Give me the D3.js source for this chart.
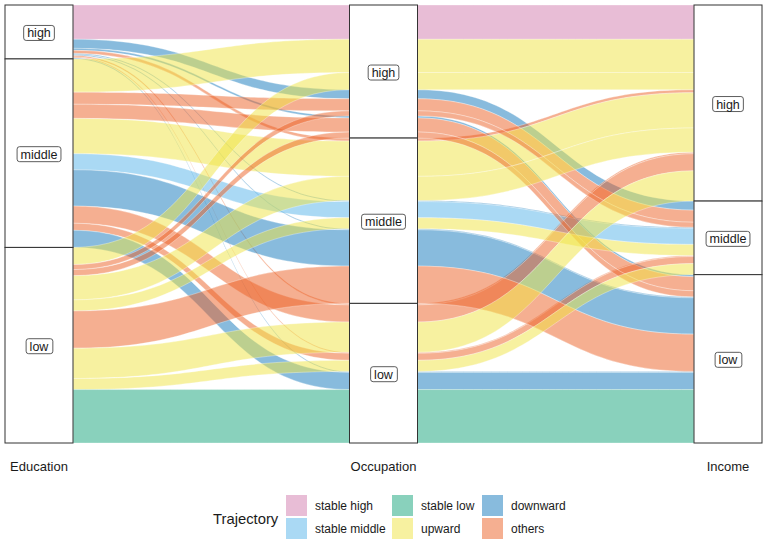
<!DOCTYPE html>
<html><head><meta charset="utf-8">
<script src="https://cdn.jsdelivr.net/npm/d3@7"></script>
<style>body{margin:0;background:#fff;}svg{display:block;font-family:"Liberation Sans",Arial,Helvetica,sans-serif;}</style>
</head><body><svg id="c" width="765" height="543"></svg>
<script>
// ---- data ----
const axesNames = ["Education", "Occupation", "Income"];
const levels = ["high", "middle", "low"];
const trajectories = ["stable high", "stable middle", "stable low", "upward", "downward", "others"];
const trajColors = ["#D27CAE", "#56B4E9", "#14A47A", "#F0E442", "#1277BB", "#EB5F23"];

const education  = ["high","high","high","high","high","high","high","high","high",
                    "middle","middle","middle","middle","middle","middle","middle","middle","middle",
                    "low","low","low","low","low","low","low","low","low"];
const occupation = ["high","high","high","middle","middle","middle","low","low","low",
                    "high","high","high","middle","middle","middle","low","low","low",
                    "high","high","high","middle","middle","middle","low","low","low"];
const income     = ["high","middle","low","high","middle","low","high","middle","low",
                    "high","middle","low","high","middle","low","high","middle","low",
                    "high","middle","low","high","middle","low","high","middle","low"];
const counts     = [34, 9, 2, 3, 1, 1, 1.5, 1, 1,
                    33, 12, 14, 35, 16, 36, 17, 7, 17,
                    17, 5, 6, 24, 11, 37, 30, 11, 53];
const trajectory = ["stable high","downward","downward","others","downward","downward","others","others","downward",
                    "upward","others","others","upward","stable middle","downward","others","others","downward",
                    "upward","others","others","upward","upward","others","upward","upward","stable low"];

// ---- layout ----
const svg = d3.select("#c");
const alluvia = counts.map((n, i) => ({
  id: i, n, traj: trajectory[i], strata: [education[i], occupation[i], income[i]]
}));
const total = d3.sum(counts);
const y = d3.scaleLinear().domain([0, total]).range([5, 443]);
const x = d3.scalePoint().domain(axesNames).range([39, 728]);
const boxW = 68;
const lvl = d3.scaleOrdinal().domain(levels).range([0, 1, 2]);
const color = d3.scaleOrdinal().domain(trajectories).range(trajColors);
// lode guidance: which other axes decide the order inside a stratum
const guide = [[1, 2], [2, 0], [1, 0]];

const pos = alluvia.map(() => []);
const strataBoxes = [];
axesNames.forEach((ax, a) => {
  let cum = 0;
  levels.forEach(lv => {
    const members = alluvia.filter(d => d.strata[a] === lv);
    members.sort((p, q) => {
      for (const g of guide[a]) {
        const diff = lvl(p.strata[g]) - lvl(q.strata[g]);
        if (diff) return diff;
      }
      return p.id - q.id;
    });
    const start = cum;
    members.forEach(d => { pos[d.id][a] = [cum, cum + d.n]; cum += d.n; });
    strataBoxes.push({ axis: a, level: lv, y0: start, y1: cum });
  });
});

function ribbon(x0, a0, x1, a1) {
  const xm = (x0 + x1) / 2;
  const p = d3.path();
  p.moveTo(x0, y(a0[0]));
  p.bezierCurveTo(xm, y(a0[0]), xm, y(a1[0]), x1, y(a1[0]));
  p.lineTo(x1, y(a1[1]));
  p.bezierCurveTo(xm, y(a1[1]), xm, y(a0[1]), x0, y(a0[1]));
  p.closePath();
  return p.toString();
}

const gFlows = svg.append("g");
alluvia.forEach(d => {
  for (let a = 0; a < 2; a++) {
    const x0 = x(axesNames[a]) + boxW / 2, x1 = x(axesNames[a + 1]) - boxW / 2;
    gFlows.append("path")
      .attr("d", ribbon(x0, pos[d.id][a], x1, pos[d.id][a + 1]))
      .attr("fill", color(d.traj)).attr("fill-opacity", 0.5)
      .attr("stroke", "#fff").attr("stroke-width", 0.4).attr("stroke-opacity", 0.8);
  }
});

// strata boxes
const gBox = svg.append("g");
strataBoxes.forEach(s => {
  const cx = x(axesNames[s.axis]);
  gBox.append("rect")
    .attr("x", cx - boxW / 2).attr("y", y(s.y0))
    .attr("width", boxW).attr("height", y(s.y1) - y(s.y0))
    .attr("fill", "#fff").attr("stroke", "#333").attr("stroke-width", 1);
});
strataBoxes.forEach(s => {
  const cx = x(axesNames[s.axis]);
  const cy = (y(s.y0) + y(s.y1)) / 2 + 1;
  const t = gBox.append("text").attr("x", cx).attr("y", cy + 4.5)
    .attr("text-anchor", "middle").attr("font-size", 12.5).attr("fill", "#1a1a1a").text(s.level);
  const bb = t.node().getBBox();
  gBox.insert("rect", () => t.node())
    .attr("x", bb.x - 3.5).attr("y", cy - 7.5).attr("width", bb.width + 7).attr("height", 15)
    .attr("rx", 2.5).attr("fill", "#fff").attr("stroke", "#333").attr("stroke-width", 0.8);
});

// axis labels
axesNames.forEach(ax => {
  svg.append("text").attr("x", x(ax)).attr("y", 471).attr("text-anchor", "middle")
    .attr("font-size", 13).attr("fill", "#1a1a1a").text(ax);
});

// legend
const lg = svg.append("g");
lg.append("text").attr("x", 213).attr("y", 524).attr("font-size", 14.8).attr("fill", "#1a1a1a").text("Trajectory");
const colX = [286, 392, 482], rowY = [495, 518];
trajectories.forEach((t, i) => {
  const c = Math.floor(i / 2), r = i % 2;
  lg.append("rect").attr("x", colX[c]).attr("y", rowY[r]).attr("width", 21).attr("height", 21)
    .attr("fill", color(t)).attr("fill-opacity", 0.5);
  lg.append("text").attr("x", colX[c] + 29).attr("y", rowY[r] + 15).attr("font-size", 12)
    .attr("fill", "#1a1a1a").text(t);
});
</script></body></html>
